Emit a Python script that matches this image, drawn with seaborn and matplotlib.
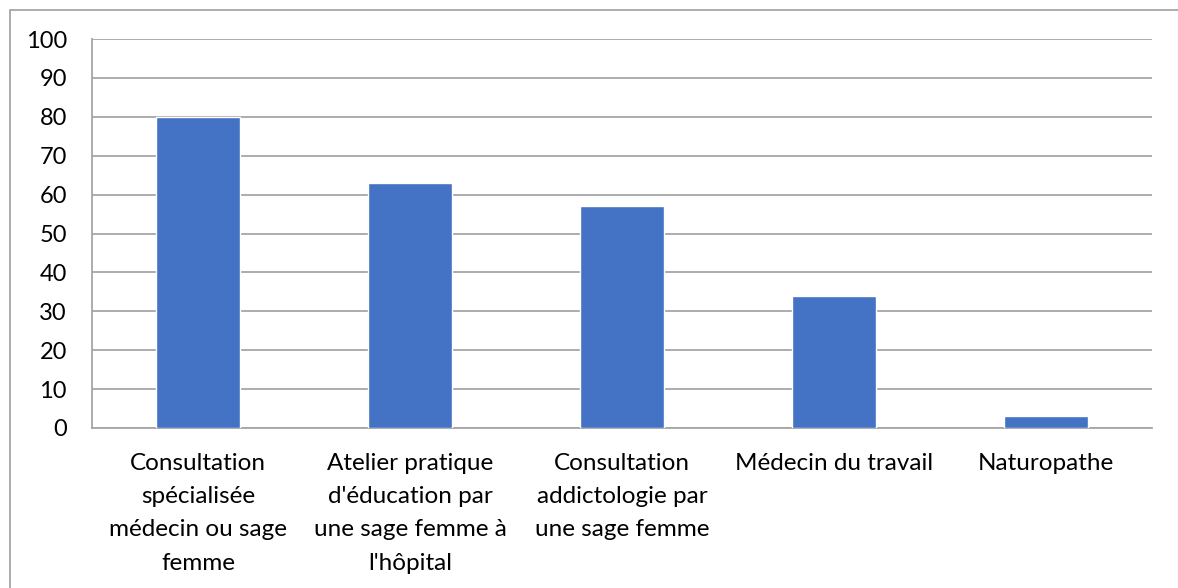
import numpy as np
import pandas as pd
import matplotlib
matplotlib.use("Agg")
import matplotlib.pyplot as plt
import seaborn as sns
from matplotlib.patches import Rectangle

# Data
categories = ["Consultation\nspécialisée\nmédecin ou sage\nfemme",
              "Atelier pratique\nd'éducation par\nune sage femme à\nl'hôpital",
              "Consultation\naddictologie par\nune sage femme",
              "Médecin du travail",
              "Naturopathe"]
values = [80, 63, 57, 34, 3]
yticks = list(range(0, 101, 10))

df = pd.DataFrame({'categorie': categories, 'valeur': values})

sns.set_style("white")
plt.rcParams['font.family'] = ['Lato', 'DejaVu Sans']
plt.rcParams['text.color'] = 'black'
plt.rcParams['xtick.color'] = 'black'
plt.rcParams['ytick.color'] = 'black'

fig = plt.figure(figsize=(11.78, 5.88), dpi=100)
ax = fig.add_axes([92/1178, 1 - 428/588, (1152-92)/1178, (428-39)/588])

sns.barplot(data=df, x='categorie', y='valeur', color='#4472C4', width=0.4,
            saturation=1, ax=ax, zorder=3)

ax.set_ylim(0, 100)
ax.set_xlim(-0.5, len(categories) - 0.5)
ax.set_yticks(yticks)
ax.yaxis.grid(True, color='#A6A6A6', linewidth=1.3, zorder=0)
ax.set_axisbelow(True)
ax.set_xlabel('')
ax.set_ylabel('')

for side in ['top', 'right']:
    ax.spines[side].set_visible(False)
ax.spines['left'].set_color('#A6A6A6')
ax.spines['bottom'].set_color('#A6A6A6')
ax.spines['left'].set_linewidth(1.3)
ax.spines['bottom'].set_linewidth(1.3)

# y ticks pointing left, x ticks at category boundaries pointing down
ax.tick_params(axis='y', length=8, width=1.3, color='#A6A6A6', labelcolor='black',
               labelsize=17, pad=10)
ax.set_xticks(np.arange(len(categories)))
ax.set_xticklabels(categories, fontsize=17.5, linespacing=1.72, va='top')
ax.tick_params(axis='x', length=0, pad=18, labelcolor='black')
ax.set_xticks(np.arange(-0.5, len(categories)), minor=True)
ax.tick_params(axis='x', which='minor', length=8, width=1.3, color='#A6A6A6')

# outer chart frame (right and bottom edges fall outside the image)
fig.patches.append(Rectangle((10/1178, -0.1), 1.2, 1 - 10/588 + 0.1,
                             transform=fig.transFigure, fill=False,
                             edgecolor='#A6A6A6', linewidth=1.3))

plt.savefig("out.png", dpi=100)
